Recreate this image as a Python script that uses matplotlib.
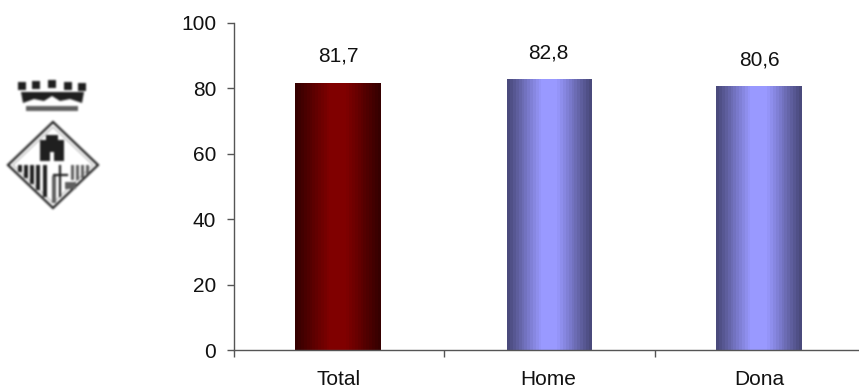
import numpy as np
import matplotlib
matplotlib.use('Agg')
import matplotlib.pyplot as plt
from matplotlib.colors import LinearSegmentedColormap
from matplotlib.patches import Polygon, Rectangle

plt.rcParams['font.family'] = ['Liberation Sans', 'DejaVu Sans']

categories = ['Total', 'Home', 'Dona']
values = [81.7, 82.8, 80.6]
value_labels = ['81,7', '82,8', '80,6']
yticks = [0, 20, 40, 60, 80, 100]

W, H = 859, 388
AXIS_GREY = '#555555'


def shaded_cmap(edge, mid):
    stops = [(0, edge), (0.40, mid), (0.60, mid), (1, edge)]
    return LinearSegmentedColormap.from_list('bar', stops, N=30)


def gradient_bar(ax, x, value, width, cmap):
    bar = ax.bar(x, value, width=width, color='none', linewidth=0)[0]
    ramp = np.linspace(0, 1, 86).reshape(1, -1)
    im = ax.imshow(ramp, cmap=cmap, aspect='auto', interpolation='nearest',
                   extent=(x - width / 2, x + width / 2, 0, value), zorder=2)
    im.set_clip_path(bar)


def logo_patches(la):
    dark = '#1f2a29'
    grey = '#5f6665'

    # crown
    for cx, cy in [(22, 86), (36, 85), (52, 84), (68, 86), (82, 87)]:
        la.add_patch(Rectangle((cx - 4, cy - 4), 8, 8, color=dark, lw=0))
    la.add_patch(Polygon([(21, 92), (84, 92), (82, 103), (70, 99), (60, 101), (52, 96),
                          (44, 101), (34, 99), (23, 103)], color=dark, lw=0))
    la.add_patch(Rectangle((26, 106), 52, 5, color=grey, lw=0))

    # diamond outline with a fine inner line
    la.add_patch(Polygon([(53, 122), (98, 165), (53, 208), (8, 165)], closed=True,
                         fill=False, ec=dark, lw=1.6))
    la.add_patch(Polygon([(53, 127), (93, 165), (53, 203), (13, 165)], closed=True,
                         fill=False, ec='#b5b9b8', lw=0.8))

    # castle
    la.add_patch(Rectangle((40, 146), 24, 15, color=dark, lw=0))
    la.add_patch(Rectangle((46, 135), 12, 12, color=dark, lw=0))
    for tx in [40, 58]:
        la.add_patch(Rectangle((tx, 140), 6, 7, color=dark, lw=0))
    la.add_patch(Rectangle((50, 152), 4, 9, color='white', lw=0))

    # stripes on the left half, then the cross and thinner stripes on the right
    for sx, bottom in [(18, 172), (24, 178), (30, 184), (36, 190), (43, 197)]:
        la.add_patch(Rectangle((sx, 165), 4, bottom - 165, color=dark, lw=0))
    la.add_patch(Rectangle((52, 176), 4, 27, color=grey, lw=0))
    la.plot([60, 60], [166, 196], color=dark, lw=1.6)
    la.plot([54, 67], [175, 175], color=dark, lw=1.6)
    for sx, bottom in [(71, 180), (76, 180), (81, 178), (86, 174)]:
        la.add_patch(Rectangle((sx, 165), 2.6, bottom - 165, color=grey, lw=0))
    la.add_patch(Rectangle((65, 182), 11, 7, color=grey, lw=0))


def box_blur(img, passes=2):
    kernel = np.array([1, 2, 1]) / 4
    out = img.astype(float)
    for _ in range(passes):
        for axis in (0, 1):
            out = np.apply_along_axis(lambda r: np.convolve(r, kernel, mode='same'), axis, out)
    return out


def draw_logo(fig):
    # the coat of arms is rasterised off screen and softened before placing it
    box = (0, 70, 110, 145)
    off = plt.figure(figsize=(box[2] / 100, box[3] / 100), dpi=100, facecolor='white')
    oa = off.add_axes([0, 0, 1, 1])
    oa.set_xlim(box[0], box[0] + box[2])
    oa.set_ylim(box[1] + box[3], box[1])
    oa.axis('off')
    logo_patches(oa)
    off.canvas.draw()
    grey = np.asarray(off.canvas.buffer_rgba())[:, :, 0] / 255
    plt.close(off)
    soft = 1 - box_blur(1 - grey)

    la = fig.add_axes([box[0] / W, 1 - (box[1] + box[3]) / H, box[2] / W, box[3] / H])
    la.imshow(soft, cmap='gray', vmin=0, vmax=1, interpolation='nearest', aspect='auto')
    la.axis('off')


def main():
    fig = plt.figure(figsize=(W / 100, H / 100), dpi=100, facecolor='white')
    # right edge of the plot area runs past the canvas on purpose
    left, right, top, bottom = 233.5, 865.0, 23.0, 350.0
    ax = fig.add_axes([left / W, 1 - bottom / H, (right - left) / W, (bottom - top) / H])

    cmaps = [shaded_cmap('#360000', '#800000'),
             shaded_cmap('#4a4a7c', '#9999ff'),
             shaded_cmap('#4a4a7c', '#9999ff')]
    widths = [0.408, 0.4, 0.408]
    xs = np.arange(len(categories)) + 0.497
    for x, v, w, cmap in zip(xs, values, widths, cmaps):
        gradient_bar(ax, x, v, w, cmap)

    for x, v, lab in zip(xs, values, value_labels):
        ax.annotate(lab, (x, v), xytext=(0, 19), textcoords='offset points',
                    ha='center', va='center', fontsize=15, color='#111111')

    ax.set_xlim(0, 3)
    ax.set_ylim(0, 100)
    ax.set_yticks(yticks)
    ax.set_xticks(np.arange(4))
    ax.set_xticklabels([])
    ax.set_xticks(xs, categories, minor=True)
    ax.tick_params(axis='x', which='minor', length=0, pad=14.5, labelsize=15, labelcolor='#111111')
    ax.tick_params(axis='x', which='major', length=5, width=1, color=AXIS_GREY)
    ax.tick_params(axis='y', length=5, width=1, color=AXIS_GREY, pad=7.5, labelsize=15,
                   labelcolor='#111111')
    for side in ['top', 'right']:
        ax.spines[side].set_visible(False)
    for side in ['left', 'bottom']:
        ax.spines[side].set_color(AXIS_GREY)
        ax.spines[side].set_linewidth(1)
        ax.spines[side].set_zorder(3)

    draw_logo(fig)
    fig.savefig('out.png', dpi=100)


if __name__ == '__main__':
    main()
